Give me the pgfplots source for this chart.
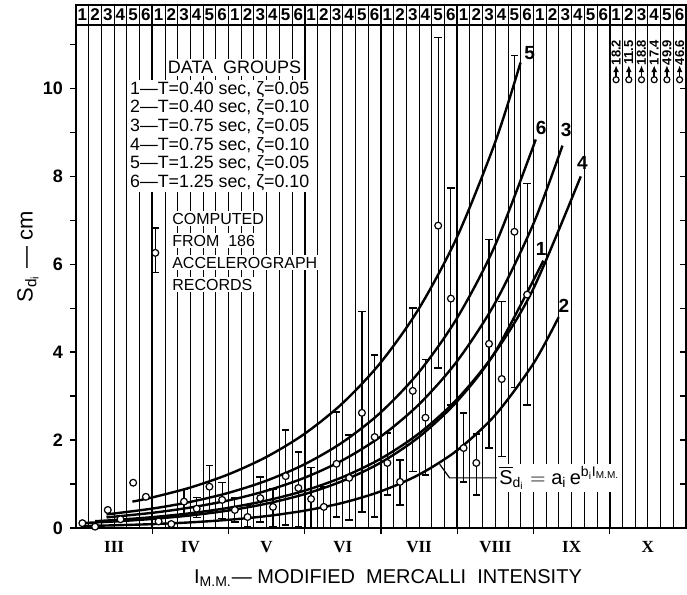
\documentclass[border=0pt]{standalone}
\usepackage{pgfplots}
\pgfplotsset{compat=1.18}
\usepackage{amsmath}
\usepackage{fontspec}
\setmainfont{Liberation Sans}
\newfontfamily\romanfont{Liberation Serif}
\usetikzlibrary{arrows.meta}
\newcommand\hdr{\bfseries\fontsize{8.5}{8.5}\selectfont}
\newcommand\lgd{\fontsize{8.9}{9.25}\selectfont}
\newcommand\cmp{\fontsize{8}{9}\selectfont}
\begin{document}
\begin{tikzpicture}
\path[use as bounding box] (-38pt,-33.5pt) rectangle (305.5pt,264pt);
\begin{axis}[
  at={(0,0)}, anchor=south west,
  scale only axis, width=305pt, height=261.5pt,
  xmin=2.5, xmax=10.5, ymin=0, ymax=11.9,
  axis line style={line width=1pt},
  xtick={3.5,4.5,5.5,6.5,7.5,8.5,9.5}, xticklabels={},
  minor xtick={2.66667,2.83333,3,3.16667,3.33333,3.66667,3.83333,4,4.16667,4.33333,4.66667,4.83333,5,5.16667,5.33333,5.66667,5.83333,6,6.16667,6.33333,6.66667,6.83333,7,7.16667,7.33333,7.66667,7.83333,8,8.16667,8.33333,8.66667,8.83333,9,9.16667,9.33333,9.66667,9.83333,10,10.16667,10.33333},
  xmajorgrids, xminorgrids,
  major x grid style={line width=0.9pt, black},
  minor x grid style={line width=0.45pt, black},
  ytick={0,2,4,6,8,10},
  extra y ticks={1,3,5,7,9,11}, extra y tick labels={},
  extra x ticks={3,4,5,6,7,8,9,10},
  extra x tick labels={III,IV,V,VI,VII,VIII,IX,X},
  extra x tick style={grid=none, major tick length=0pt,
     xticklabel style={font=\romanfont\bfseries\fontsize{8.5}{8.5}\selectfont, yshift=-3pt}},
  xtick pos=bottom, ytick pos=left,
  tick align=outside, major tick length=3pt, minor tick length=0pt,
  tick style={black, line width=0.7pt},
  yticklabel style={font=\bfseries\fontsize{9}{9}\selectfont},
  /pgf/number format/assume math mode=true,
  clip=false,
]
% header strip
\draw[line width=0.8pt] (axis cs:2.5,11.45) -- (axis cs:10.5,11.45);
\pgfplotsforeachungrouped \m in {0,...,47}{%
  \pgfmathsetmacro\hx{2.5+(\m+0.5)/6}%
  \pgfmathtruncatemacro\hn{mod(\m,6)+1}%
  \edef\temp{\noexpand\node[font=\noexpand\hdr, inner sep=0pt] at (axis cs:\hx,11.68) {\hn};}%
  \temp
}
% right-side ticks
\pgfplotsinvokeforeach{1,...,10}{\draw[line width=0.7pt] (axis cs:10.5,#1) -- ([xshift=-3pt]axis cs:10.5,#1);}

% fitted curves
\addplot[line width=1.2pt, smooth] coordinates {(3.24,0.6) (3.5,0.695) (4,0.921) (4.5,1.221) (5,1.619) (5.5,2.146) (6,2.846) (6.5,3.773) (7,5.00) (7.5,6.63) (8,8.79) (8.33,10.59)};
\addplot[line width=1.2pt, smooth] coordinates {(2.9,0.309) (3.5,0.441) (4,0.594) (4.5,0.800) (5,1.078) (5.5,1.452) (6,1.956) (6.5,2.636) (7,3.551) (7.5,4.784) (8,6.445) (8.53,8.84)};
\addplot[line width=1.2pt, smooth] coordinates {(2.9,0.241) (3.5,0.345) (4,0.466) (4.5,0.628) (5,0.848) (5.5,1.145) (6,1.545) (6.5,2.086) (7,2.816) (7.5,3.801) (8,5.131) (8.5,6.926) (8.88,8.7)};
\addplot[line width=1.2pt, smooth] coordinates {(2.75,0.155) (3,0.181) (3.5,0.247) (4,0.336) (4.5,0.458) (5,0.625) (5.5,0.851) (6,1.160) (6.5,1.580) (7,2.154) (7.5,2.934) (8,4.0) (8.5,5.45) (9.12,8.0)};
\addplot[line width=1.2pt, smooth] coordinates {(2.6,0.114) (3,0.148) (3.5,0.206) (4,0.286) (4.5,0.398) (5,0.554) (5.5,0.771) (6,1.072) (6.5,1.491) (7,2.074) (7.5,2.886) (8,4.014) (8.63,6.084)};
\addplot[line width=1.2pt, smooth] coordinates {(2.57,0.044) (3,0.061) (3.5,0.088) (4,0.128) (4.5,0.186) (5,0.271) (5.5,0.395) (6,0.574) (6.5,0.836) (7,1.216) (7.5,1.769) (8,2.574) (8.5,3.745) (8.83,4.797)};

% error-bar caps (ends of the bars)
\addplot[only marks, mark=-, mark size=1.9pt, mark options={line width=0.7pt, black}] coordinates {
 (4.5833,0.68) (4.5833,0.14) (5.5833,1.37) (5.5833,0.0) (6.5833,2.16) (6.5833,0.75) (7.5833,2.62) (7.5833,1.05)
 (4.75,0.51) (4.75,0.02) (5.75,0.93) (5.75,0.0) (6.75,1.55) (6.75,0.52) (7.75,2.14) (7.75,0.75)
 (3.9167,0.88) (3.9167,0.32) (4.9167,1.16) (4.9167,0.14) (5.9167,2.64) (5.9167,0.25) (6.9167,5.01) (6.9167,1.28) (7.9167,6.56) (7.9167,1.82)
 (4.0833,0.70) (4.0833,0.24) (5.0833,0.89) (5.0833,0.02) (6.0833,2.12) (6.0833,0.18) (7.0833,3.83) (7.0833,1.21) (8.0833,5.15) (8.0833,1.62)
 (4.25,1.42) (4.25,0.38) (5.25,2.23) (5.25,0.07) (6.25,4.92) (6.25,0.36) (7.25,11.16) (7.25,3.64) (8.25,10.75) (8.25,3.19)
 (4.4167,1.04) (4.4167,0.22) (5.4167,1.73) (5.4167,0.02) (6.4167,3.94) (6.4167,0.25) (7.4167,7.74) (7.4167,2.80) (8.4167,7.84) (8.4167,2.80)
 (3.54,6.83) (3.54,5.81)};

% data points without error bars
\addplot[only marks, mark=*, mark size=1.7pt, mark options={fill=white, draw=black, line width=0.6pt}] coordinates {
 (2.5833,0.11) (3.5833,0.15) (2.75,0.03) (3.75,0.09) (2.9167,0.41) (3.0833,0.20) (3.25,1.03) (3.4167,0.71)};

% data points with error bars, groups 1..6
\pgfplotsset{ebar/.style={only marks, mark=*, mark size=1.7pt,
  mark options={fill=white, draw=black, line width=0.6pt},
  error bars/.cd, y dir=both, y explicit, error mark=none,
  error bar style={line width=0.6pt, black}}}
\addplot[ebar] coordinates {
 (4.5833,0.41) += (0,0.27) -= (0,0.27)
 (5.5833,0.66) += (0,0.71) -= (0,0.66)
 (6.5833,1.48) += (0,0.68) -= (0,0.73)
 (7.5833,1.82) += (0,0.80) -= (0,0.77)};
\addplot[ebar] coordinates {
 (4.75,0.25) += (0,0.26) -= (0,0.23)
 (5.75,0.48) += (0,0.45) -= (0,0.48)
 (6.75,1.05) += (0,0.50) -= (0,0.53)
 (7.75,1.48) += (0,0.66) -= (0,0.73)};
\addplot[ebar] coordinates {
 (3.9167,0.60) += (0,0.28) -= (0,0.28)
 (4.9167,0.68) += (0,0.48) -= (0,0.54)
 (5.9167,1.46) += (0,1.18) -= (0,1.21)
 (6.9167,3.12) += (0,1.89) -= (0,1.84)
 (7.9167,4.19) += (0,2.37) -= (0,2.37)};
\addplot[ebar] coordinates {
 (4.0833,0.44) += (0,0.26) -= (0,0.20)
 (5.0833,0.48) += (0,0.41) -= (0,0.46)
 (6.0833,1.14) += (0,0.98) -= (0,0.96)
 (7.0833,2.51) += (0,1.32) -= (0,1.30)
 (8.0833,3.39) += (0,1.76) -= (0,1.77)};
\addplot[ebar] coordinates {
 (4.25,0.94) += (0,0.48) -= (0,0.56)
 (5.25,1.18) += (0,1.05) -= (0,1.11)
 (6.25,2.62) += (0,2.30) -= (0,2.26)
 (7.25,6.88) += (0,4.28) -= (0,3.24)
 (8.25,6.74) += (0,4.01) -= (0,3.55)};
\addplot[ebar] coordinates {
 (4.4167,0.64) += (0,0.40) -= (0,0.42)
 (5.4167,0.91) += (0,0.82) -= (0,0.89)
 (6.4167,2.07) += (0,1.87) -= (0,1.82)
 (7.4167,5.22) += (0,2.52) -= (0,2.42)
 (8.4167,5.31) += (0,2.53) -= (0,2.51)};

% off-scale points at X
\addplot[quiver={u=0,v=0.28}, -{Latex[length=3.5pt,width=3pt]}, line width=0.8pt] coordinates {
 (9.5833,10.25) (9.75,10.25) (9.9167,10.25) (10.0833,10.25) (10.25,10.25) (10.4167,10.25)};
\addplot[only marks, mark=*, mark size=1.5pt, mark options={fill=white, draw=black, line width=0.6pt}] coordinates {
 (9.5833,10.2) (9.75,10.2) (9.9167,10.2) (10.0833,10.2) (10.25,10.2) (10.4167,10.2)};
\node[rotate=90, font=\bfseries\fontsize{6.5}{6.5}\selectfont, inner sep=0pt] at (axis cs:9.5833,10.82) {18.2};
\node[rotate=90, font=\bfseries\fontsize{6.5}{6.5}\selectfont, inner sep=0pt] at (axis cs:9.75,10.82) {11.5};
\node[rotate=90, font=\bfseries\fontsize{6.5}{6.5}\selectfont, inner sep=0pt] at (axis cs:9.9167,10.82) {18.8};
\node[rotate=90, font=\bfseries\fontsize{6.5}{6.5}\selectfont, inner sep=0pt] at (axis cs:10.0833,10.82) {17.4};
\node[rotate=90, font=\bfseries\fontsize{6.5}{6.5}\selectfont, inner sep=0pt] at (axis cs:10.25,10.82) {49.9};
\node[rotate=90, font=\bfseries\fontsize{6.5}{6.5}\selectfont, inner sep=0pt] at (axis cs:10.4167,10.82) {46.6};

% curve labels
\node[font=\bfseries\fontsize{9.5}{9.5}\selectfont] at (axis cs:8.45,10.8) {5};
\node[font=\bfseries\fontsize{9.5}{9.5}\selectfont] at (axis cs:8.6,9.1) {6};
\node[font=\bfseries\fontsize{9.5}{9.5}\selectfont] at (axis cs:8.93,9.05) {3};
\node[font=\bfseries\fontsize{9.5}{9.5}\selectfont] at (axis cs:9.14,8.3) {4};
\node[font=\bfseries\fontsize{9.5}{9.5}\selectfont] at (axis cs:8.6,6.35) {1};
\node[font=\bfseries\fontsize{9.5}{9.5}\selectfont] at (axis cs:8.9,5.05) {2};

% legend text
\node[fill=white, inner sep=1pt, font=\fontsize{9}{9}\selectfont] at (axis cs:4.579,10.48) {DATA\ \ GROUPS};
\node[anchor=west, fill=white, inner sep=0.8pt, font=\lgd] at (axis cs:3.184,9.98) {1—T=0.40 sec, ζ=0.05};
\node[anchor=west, fill=white, inner sep=0.8pt, font=\lgd] at (axis cs:3.184,9.56) {2—T=0.40 sec, ζ=0.10};
\node[anchor=west, fill=white, inner sep=0.8pt, font=\lgd] at (axis cs:3.184,9.13) {3—T=0.75 sec, ζ=0.05};
\node[anchor=west, fill=white, inner sep=0.8pt, font=\lgd] at (axis cs:3.184,8.71) {4—T=0.75 sec, ζ=0.10};
\node[anchor=west, fill=white, inner sep=0.8pt, font=\lgd] at (axis cs:3.184,8.29) {5—T=1.25 sec, ζ=0.05};
\node[anchor=west, fill=white, inner sep=0.8pt, font=\lgd] at (axis cs:3.184,7.87) {6—T=1.25 sec, ζ=0.10};
\node[anchor=west, fill=white, inner sep=0.8pt, font=\cmp] at (axis cs:3.737,7.04) {COMPUTED};
\node[anchor=west, fill=white, inner sep=0.8pt, font=\cmp] at (axis cs:3.737,6.54) {FROM\ \ 186};
\node[anchor=west, fill=white, inner sep=0.8pt, font=\cmp] at (axis cs:3.737,6.04) {ACCELEROGRAPH};
\node[anchor=west, fill=white, inner sep=0.8pt, font=\cmp] at (axis cs:3.737,5.54) {RECORDS};
\addplot[ebar] coordinates {(3.54,6.26) += (0,0.57) -= (0,0.45)};

% formula
\draw[line width=0.6pt] (axis cs:8.02,1.14) -- (axis cs:7.4,1.14) -- (axis cs:7.27,1.45);
\node[anchor=west, fill=white, inner sep=1pt, font=\fontsize{10}{10}\selectfont] at (axis cs:8.02,1.14)
  {$\overline{\text{S}}_{\text{d}_\text{i}} = \text{a}_\text{i}\,\text{e}^{\text{b}_\text{i}\text{I}_{\text{M.M.}}}$};
\end{axis}
% axis titles
\node[rotate=90, font=\fontsize{11}{11}\selectfont] at (-24pt,135.5pt) {$\text{S}_{\text{d}_\text{i}}$ — cm};
\node[font=\fontsize{10}{10}\selectfont] at (156pt,-25pt) {$\text{I}_{\text{M.M.}}$— MODIFIED\ \ MERCALLI\ \ INTENSITY};
\end{tikzpicture}
\end{document}
